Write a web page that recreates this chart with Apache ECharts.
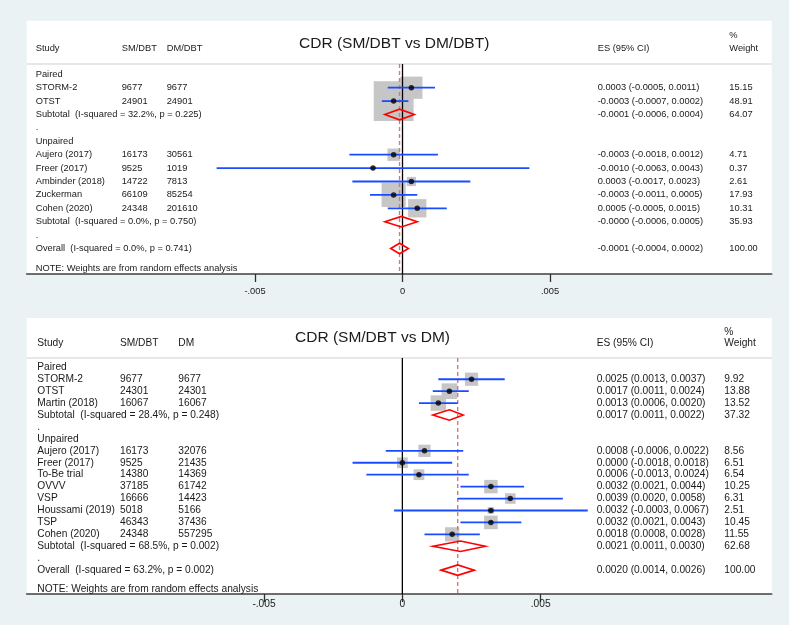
<!DOCTYPE html>
<html><head><meta charset="utf-8">
<script src="https://cdn.jsdelivr.net/npm/echarts@6/dist/echarts.min.js"></script>
<style>html,body{margin:0;padding:0;background:#EAF2F3;}#c{width:789px;height:625px;}</style>
</head><body><div id="c"></div>
<script>
// ---------- Panel 1: CDR (SM/DBT vs DM/DBT) ----------
const p1Title = 'CDR (SM/DBT vs DM/DBT)';
const p1Headers = ['Study', 'SM/DBT', 'DM/DBT', 'ES (95% CI)', '%', 'Weight'];
const p1Group = ['Paired', 'Paired', 'Unpaired', 'Unpaired', 'Unpaired', 'Unpaired', 'Unpaired'];
const p1Study = ['STORM-2', 'OTST', 'Aujero (2017)', 'Freer (2017)', 'Ambinder (2018)', 'Zuckerman', 'Cohen (2020)'];
const p1N1 = [9677, 24901, 16173, 9525, 14722, 66109, 24348];
const p1N2 = [9677, 24901, 30561, 1019, 7813, 85254, 201610];
const p1ES = [0.0003, -0.0003, -0.0003, -0.0010, 0.0003, -0.0003, 0.0005];
const p1Lo = [-0.0005, -0.0007, -0.0018, -0.0063, -0.0017, -0.0011, -0.0005];
const p1Hi = [0.0011, 0.0002, 0.0012, 0.0043, 0.0023, 0.0005, 0.0015];
const p1W = [15.15, 48.91, 4.71, 0.37, 2.61, 17.93, 10.31];
const p1SubGroup = ['Paired', 'Unpaired'];
const p1SubES = [-0.0001, -0.00004];
const p1SubLo = [-0.0006, -0.0006];
const p1SubHi = [0.0004, 0.0005];
const p1SubW = [64.07, 35.93];
const p1SubI2 = ['32.2%', '0.0%'];
const p1SubP = ['0.225', '0.750'];
const p1OvES = -0.0001, p1OvLo = -0.0004, p1OvHi = 0.0002, p1OvW = 100.00, p1OvI2 = '0.0%', p1OvP = '0.741';

// ---------- Panel 2: CDR (SM/DBT vs DM) ----------
const p2Title = 'CDR (SM/DBT vs DM)';
const p2Headers = ['Study', 'SM/DBT', 'DM', 'ES (95% CI)', '%', 'Weight'];
const p2Group = ['Paired', 'Paired', 'Paired', 'Unpaired', 'Unpaired', 'Unpaired', 'Unpaired', 'Unpaired', 'Unpaired', 'Unpaired', 'Unpaired'];
const p2Study = ['STORM-2', 'OTST', 'Martin (2018)', 'Aujero (2017)', 'Freer (2017)', 'To-Be trial', 'OVVV', 'VSP', 'Houssami (2019)', 'TSP', 'Cohen (2020)'];
const p2N1 = [9677, 24301, 16067, 16173, 9525, 14380, 37185, 16666, 5018, 46343, 24348];
const p2N2 = [9677, 24301, 16067, 32076, 21435, 14369, 61742, 14423, 5166, 37436, 557295];
const p2ES = [0.0025, 0.0017, 0.0013, 0.0008, 0.0000, 0.0006, 0.0032, 0.0039, 0.0032, 0.0032, 0.0018];
const p2Lo = [0.0013, 0.0011, 0.0006, -0.0006, -0.0018, -0.0013, 0.0021, 0.0020, -0.0003, 0.0021, 0.0008];
const p2Hi = [0.0037, 0.0024, 0.0020, 0.0022, 0.0018, 0.0024, 0.0044, 0.0058, 0.0067, 0.0043, 0.0028];
const p2W = [9.92, 13.88, 13.52, 8.56, 6.51, 6.54, 10.25, 6.31, 2.51, 10.45, 11.55];
const p2SubGroup = ['Paired', 'Unpaired'];
const p2SubES = [0.0017, 0.0021];
const p2SubLo = [0.0011, 0.0011];
const p2SubHi = [0.0022, 0.0030];
const p2SubW = [37.32, 62.68];
const p2SubI2 = ['28.4%', '68.5%'];
const p2SubP = ['0.248', '0.002'];
const p2OvES = 0.0020, p2OvLo = 0.0014, p2OvHi = 0.0026, p2OvW = 100.00, p2OvI2 = '63.2%', p2OvP = '0.002';

const axisTicks = [-0.005, 0, 0.005];
const axisTickLabels = ['-.005', '0', '.005'];
const noteText = 'NOTE: Weights are from random effects analysis';

// ---------- build table rows ----------
function fmtCI(es, lo, hi) {
  return es.toFixed(4) + ' (' + lo.toFixed(4) + ', ' + hi.toFixed(4) + ')';
}
function buildRows(g, study, n1, n2, es, lo, hi, w, sg, ses, slo, shi, sw, si2, sp, oes, olo, ohi, ow, oi2, op) {
  const rows = [];
  let idx = 0;
  sg.forEach((grp, k) => {
    rows.push({ idx: idx++, kind: 'group', label: grp });
    study.forEach((s, i) => {
      if (g[i] !== grp) return;
      rows.push({ idx: idx++, kind: 'study', label: s, n1: String(n1[i]), n2: String(n2[i]),
        es: es[i], lo: lo[i], hi: hi[i], w: w[i], ci: fmtCI(es[i], lo[i], hi[i]), wt: w[i].toFixed(2) });
    });
    rows.push({ idx: idx++, kind: 'sub', label: 'Subtotal  (I-squared = ' + si2[k] + ', p = ' + sp[k] + ')',
      es: ses[k], lo: slo[k], hi: shi[k], ci: fmtCI(ses[k], slo[k], shi[k]), wt: sw[k].toFixed(2) });
    rows.push({ idx: idx++, kind: 'dot', label: '.' });
  });
  rows.push({ idx: idx++, kind: 'sub', label: 'Overall  (I-squared = ' + oi2 + ', p = ' + op + ')',
    es: oes, lo: olo, hi: ohi, ci: fmtCI(oes, olo, ohi), wt: ow.toFixed(2) });
  return rows;
}
const rows1 = buildRows(p1Group, p1Study, p1N1, p1N2, p1ES, p1Lo, p1Hi, p1W, p1SubGroup, p1SubES, p1SubLo, p1SubHi, p1SubW, p1SubI2, p1SubP, p1OvES, p1OvLo, p1OvHi, p1OvW, p1OvI2, p1OvP);
const rows2 = buildRows(p2Group, p2Study, p2N1, p2N2, p2ES, p2Lo, p2Hi, p2W, p2SubGroup, p2SubES, p2SubLo, p2SubHi, p2SubW, p2SubI2, p2SubP, p2OvES, p2OvLo, p2OvHi, p2OvW, p2OvI2, p2OvP);

// ---------- layout ----------
const FONT = '"Liberation Sans", Arial, Helvetica, sans-serif';
const TXT = '#1a1a1a';
const panels = [
  { rows: rows1, title: p1Title, headers: p1Headers, ov: p1OvES, note: 14.45,
    top: 64, height: 210, ymin: -0.769, ymax: 14.903, xmin: -0.012739, xmax: 0.012515,
    fs: 9.3, cols: [35.7, 121.7, 166.7, 597.7, 729.3], titleX: 299, titleRow: -2.26, headRow: -1.94, pctRow: -2.93,
    sqK: 5.7, dH: 5.3, labelMargin: 13, axisFs: 9.3 },
  { rows: rows2, title: p2Title, headers: p2Headers, ov: p2OvES, note: 18.6,
    top: 358, height: 236, ymin: -0.78, ymax: 19.0, xmin: -0.013576, xmax: 0.013348,
    fs: 10.2, cols: [37.3, 120, 178.3, 596.7, 724.3], titleX: 295, titleRow: -2.46, headRow: -2.01, pctRow: -2.98,
    sqK: 4.2, dH: 5.2, labelMargin: 5, axisFs: 10.2 }
];

const option = {
  animation: false,
  backgroundColor: '#EAF2F3',
  graphic: [
    { type: 'rect', z: -10, shape: { x: 26.7, y: 20.7, width: 745, height: 253.3 }, style: { fill: '#ffffff' } },
    { type: 'rect', z: -10, shape: { x: 26.7, y: 318, width: 745, height: 276 }, style: { fill: '#ffffff' } },
    { type: 'line', z: -5, shape: { x1: 26.7, y1: 64, x2: 771.7, y2: 64 }, style: { stroke: '#cfcfcf', lineWidth: 1.2 } },
    { type: 'line', z: -5, shape: { x1: 26.7, y1: 358, x2: 771.7, y2: 358 }, style: { stroke: '#cfcfcf', lineWidth: 1.2 } }
  ],
  grid: [], xAxis: [], yAxis: [], series: []
};

panels.forEach((P, pi) => {
  option.grid.push({ left: 26.7, width: 745, top: P.top, height: P.height, containLabel: false });
  option.xAxis.push({
    type: 'value', gridIndex: pi, min: P.xmin, max: P.xmax,
    axisLine: { show: true, onZero: false, lineStyle: { color: '#404040', width: 1.6 } },
    axisTick: { show: true, customValues: axisTicks, length: 8, lineStyle: { color: '#303030', width: 1.3 } },
    axisLabel: { show: true, customValues: axisTicks, margin: P.labelMargin, color: TXT, fontSize: P.axisFs, fontFamily: FONT,
      formatter: v => { const i = axisTicks.findIndex(t => Math.abs(t - v) < 1e-9); return i >= 0 ? axisTickLabels[i] : ''; } },
    splitLine: { show: false }
  });
  option.yAxis.push({ type: 'value', gridIndex: pi, inverse: true, min: P.ymin, max: P.ymax, show: false });

  const studies = P.rows.filter(r => r.kind === 'study');
  const subs = P.rows.filter(r => r.kind === 'sub');

  // weight squares
  option.series.push({
    type: 'scatter', xAxisIndex: pi, yAxisIndex: pi, z: 1, silent: true,
    symbol: 'rect', symbolSize: v => P.sqK * Math.sqrt(v[2]),
    itemStyle: { color: '#c6c6c6', opacity: 1 },
    data: studies.map(r => [r.es, r.idx, r.w])
  });
  // reference lines: null effect (solid black) and overall effect (red dashed)
  option.series.push({
    type: 'custom', xAxisIndex: pi, yAxisIndex: pi, z: 2, silent: true,
    encode: { x: 0 },
    data: [[0, 0], [P.ov, 1]],
    renderItem: (params, api) => {
      const x = api.value(0);
      const a = api.coord([x, P.ymin]);
      const b = api.coord([x, P.ymax]);
      const dashed = api.value(1) === 1;
      return { type: 'line', shape: { x1: a[0], y1: a[1], x2: b[0], y2: b[1] },
        style: dashed ? { stroke: '#d27a7a', lineWidth: 1.4, lineDash: [4, 3] } : { stroke: '#000000', lineWidth: 1.3 } };
    }
  });
  // CI lines
  option.series.push({
    type: 'custom', xAxisIndex: pi, yAxisIndex: pi, z: 3, silent: true,
    encode: { x: [0, 1], y: 2 },
    data: studies.map(r => [r.lo, r.hi, r.idx]),
    renderItem: (params, api) => {
      const a = api.coord([api.value(0), api.value(2)]);
      const b = api.coord([api.value(1), api.value(2)]);
      return { type: 'line', shape: { x1: a[0], y1: a[1], x2: b[0], y2: b[1] }, style: { stroke: '#1a4cff', lineWidth: 1.8 } };
    }
  });
  // point estimates
  option.series.push({
    type: 'scatter', xAxisIndex: pi, yAxisIndex: pi, z: 4, silent: true,
    symbol: 'circle', symbolSize: 5.5, itemStyle: { color: '#000000' },
    data: studies.map(r => [r.es, r.idx])
  });
  // diamonds
  option.series.push({
    type: 'custom', xAxisIndex: pi, yAxisIndex: pi, z: 4, silent: true,
    encode: { x: [0, 1, 2], y: 3 },
    data: subs.map(r => [r.lo, r.es, r.hi, r.idx]),
    renderItem: (params, api) => {
      const y = api.value(3);
      const l = api.coord([api.value(0), y]);
      const c = api.coord([api.value(1), y]);
      const h = api.coord([api.value(2), y]);
      return { type: 'polygon', shape: { points: [[l[0], l[1]], [c[0], c[1] - P.dH], [h[0], h[1]], [c[0], c[1] + P.dH]] },
        style: { fill: 'none', stroke: '#ff0000', lineWidth: 1.6 } };
    }
  });
  // table text
  const textRows = P.rows.concat([{ idx: P.note, kind: 'note', label: noteText }, { idx: P.headRow, kind: 'head' }]);
  option.series.push({
    type: 'custom', xAxisIndex: pi, yAxisIndex: pi, z: 5, silent: true, clip: false,
    encode: { x: 0, y: 1 },
    data: textRows.map((r, i) => [0, r.idx, i]),
    renderItem: (params, api) => {
      const r = textRows[api.value(2)];
      const y = api.coord([0, api.value(1)])[1];
      const C = P.cols;
      const t = (x, s, size, yy) => ({ type: 'text', x: x, y: yy === undefined ? y : yy,
        style: { text: s, fill: TXT, font: (size || P.fs) + 'px ' + FONT, textVerticalAlign: 'middle', verticalAlign: 'middle' } });
      const kids = [];
      if (r.kind === 'head') {
        const yT = api.coord([0, P.titleRow])[1];
        const yP = api.coord([0, P.pctRow])[1];
        kids.push(t(P.titleX, P.title, 15.5, yT));
        kids.push(t(C[0], P.headers[0]), t(C[1], P.headers[1]), t(C[2], P.headers[2]), t(C[3], P.headers[3]));
        kids.push(t(C[4], P.headers[4], null, yP), t(C[4], P.headers[5]));
      } else if (r.kind === 'study') {
        kids.push(t(C[0], r.label), t(C[1], r.n1), t(C[2], r.n2), t(C[3], r.ci), t(C[4], r.wt));
      } else if (r.kind === 'sub') {
        kids.push(t(C[0], r.label), t(C[3], r.ci), t(C[4], r.wt));
      } else {
        kids.push(t(C[0], r.label));
      }
      return { type: 'group', children: kids };
    }
  });
});

const chart = echarts.init(document.getElementById('c'), null, { renderer: 'canvas' });
chart.setOption(option);
</script>
</body></html>
